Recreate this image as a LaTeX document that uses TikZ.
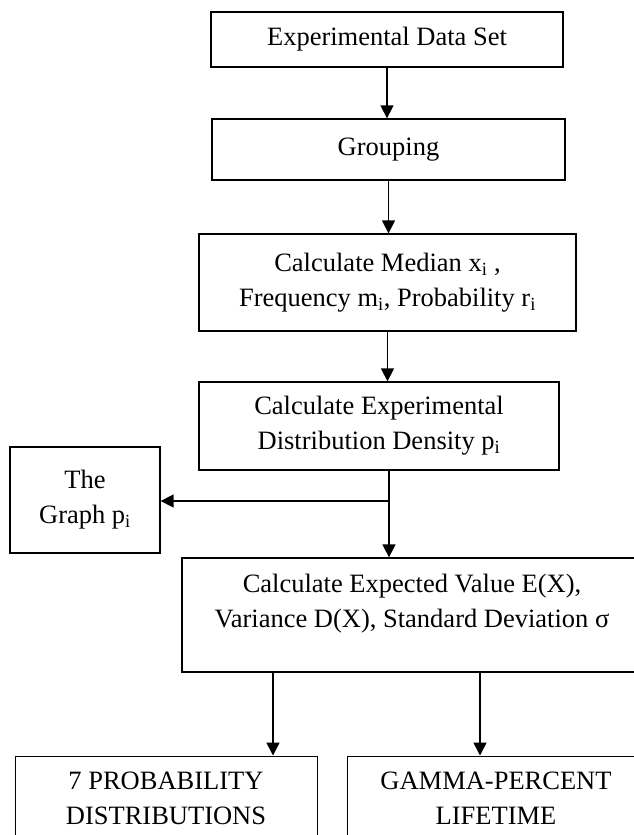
\documentclass[tikz,border=0pt]{standalone}
\usepackage{fontspec}
\setmainfont{Liberation Serif}
\usetikzlibrary{arrows.meta}
\tikzset{
  box/.style={draw=black, line width=1.3pt, rectangle, inner sep=0pt, align=center,
    font=\fontsize{26.5}{35}\selectfont},
  thinbox/.style={box, line width=1pt},
  txt/.style={inner sep=0pt, align=center, font=\fontsize{26.5}{35}\selectfont},
  arr/.style={line width=1.5pt, -{Triangle[length=13pt,width=13pt]}}
}
\begin{document}
\begin{tikzpicture}[x=1pt,y=-1pt]
\useasboundingbox (0,0) rectangle (634,835);
\clip (0,0) rectangle (634,835);
\fill[white] (0,0) rectangle (634,835);
\node[box, minimum width=352, minimum height=55] (b1) at (387,39.5) {Experimental Data Set};
\node[box, minimum width=353, minimum height=61] (b2) at (388.5,149.5) {Grouping};
\node[box, minimum width=377, minimum height=97] (b3) at (387.5,282.5)
  {Calculate Median x\textsubscript{i} ,\\Frequency m\textsubscript{i}, Probability r\textsubscript{i}};
\node[box, minimum width=360, minimum height=88] (b4) at (379,426)
  {Calculate Experimental\\Distribution Density p\textsubscript{i}};
\node[box, minimum width=150, minimum height=106] (g) at (85,500)
  {The\\Graph p\textsubscript{i}};
\node[box, minimum width=460, minimum height=114] (b5) at (412,615) {};
\node[txt] (b5t) at (412,603.5)
  {Calculate Expected Value E(X),\\Variance D(X), Standard Deviation σ};
\node[thinbox, minimum width=302, minimum height=85] (b6) at (166,798.5)
  {7 PROBABILITY\\DISTRIBUTIONS};
\node[thinbox, minimum width=298, minimum height=85] (b7) at (496,798.5)
  {GAMMA-PERCENT\\LIFETIME};
\draw[arr] (b1.south) -- (b1.south |- b2.north);
\draw[arr] (b2.south) -- (b2.south |- b3.north);
\draw[arr] (b3.south) -- (b3.south |- b4.north);
\coordinate (s4) at (389,470);
\coordinate (j) at (389,501);
\draw[arr] (s4) -- (s4 |- b5.north);
\draw[arr] (j) -- (j -| g.east);
\coordinate (s5a) at (273,672);
\coordinate (s5b) at (480,672);
\draw[arr] (s5a) -- (s5a |- b6.north);
\draw[arr] (s5b) -- (s5b |- b7.north);
\end{tikzpicture}
\end{document}
